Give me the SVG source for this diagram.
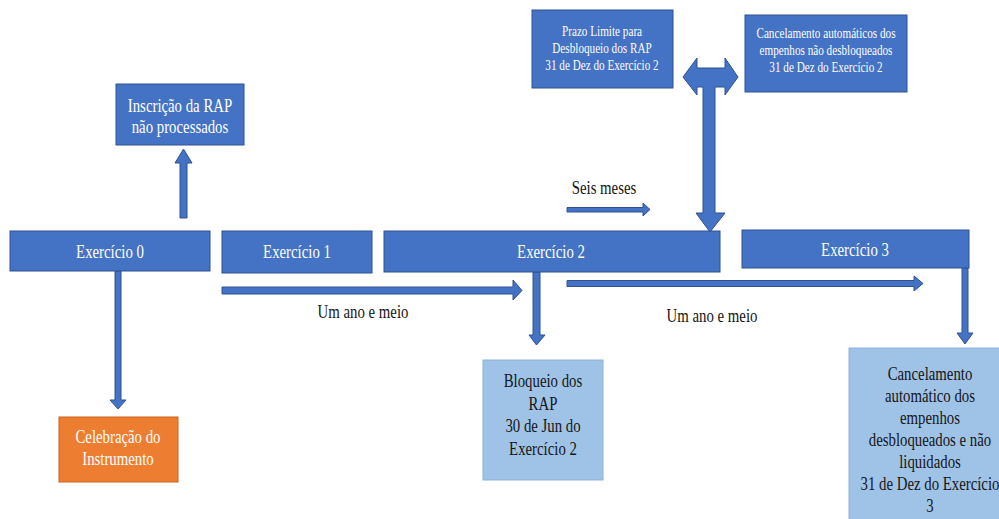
<svg xmlns="http://www.w3.org/2000/svg" width="999" height="519" viewBox="0 0 999 519">
<style>
.box{fill:#4472C4;stroke:#2F528F;stroke-width:1}
.lbox{fill:#9FC3E7;stroke:#8DB3DA;stroke-width:1}
.obox{fill:#ED7D31;stroke:#C8651F;stroke-width:1}
.arr{fill:#4472C4;stroke:#2F528F;stroke-width:1;stroke-linejoin:miter}
.t{font-family:'Liberation Serif','Times New Roman',serif;text-anchor:middle;transform-box:fill-box;transform-origin:center;transform:scaleX(0.8)}
.w{fill:#FFFFFF}
.d{fill:#151515}
.s18{font-size:18.5px}
.s14{font-size:14px}
</style>
<rect width="999" height="519" fill="#FFFFFF"/>
<g id="connectors">
<polygon class="arr" points="180,218 180,163 175,163 183.5,149 192,163 187,163 187,218"/>
<polygon class="arr" points="115,271 121,271 121,400 126,400 118,409 110,400 115,400"/>
<polygon class="arr" points="222,287 513,287 513,280 522,290.5 513,300 513,294 222,294"/>
<polygon class="arr" points="533,272 540,272 540,335 545,335 536.5,345 529,335 533,335"/>
<polygon class="arr" points="567,280.5 914,280.5 914,276 923,283.5 914,291 914,286.5 567,286.5"/>
<polygon class="arr" points="962,268 968,268 968,333 973,333 965,344 957,333 962,333"/>
<polygon class="arr" points="567,207.5 643,207.5 643,203 650,209.5 643,216 643,212 567,212"/>
<polygon class="arr" points="683,77 697,58 697,68 725,68 725,58 738,77 725,95 725,87 715,87 715,213 725,213 710,232 696,213 703,213 703,87 697,87 697,95"/>
</g>
<g id="inscricao" font-family="Liberation Serif, serif">
<rect class="box" x="116" y="84" width="128" height="61"/>
<text class="t w s18" x="180" y="112">Inscrição da RAP</text>
<text class="t w s18" x="180" y="133">não processados</text>
</g>
<g id="exercicio0" font-family="Liberation Serif, serif">
<rect class="box" x="10" y="231" width="200" height="40"/>
<text class="t w s18" x="110" y="258">Exercício 0</text>
</g>
<g id="exercicio1" font-family="Liberation Serif, serif">
<rect class="box" x="222" y="231" width="150" height="42"/>
<text class="t w s18" x="297" y="258">Exercício 1</text>
</g>
<g id="exercicio2" font-family="Liberation Serif, serif">
<rect class="box" x="384" y="231" width="336" height="41"/>
<text class="t w s18" x="551" y="258">Exercício 2</text>
</g>
<g id="exercicio3" font-family="Liberation Serif, serif">
<rect class="box" x="742" y="230" width="227" height="38"/>
<text class="t w s18" x="855" y="256">Exercício 3</text>
</g>
<g id="celebracao" font-family="Liberation Serif, serif">
<rect class="obox" x="59" y="417" width="119" height="65"/>
<text class="t w s18" x="118" y="443">Celebração do</text>
<text class="t w s18" x="118" y="465">Instrumento</text>
</g>
<g id="bloqueio" font-family="Liberation Serif, serif">
<rect class="lbox" x="483" y="360" width="120" height="120"/>
<text class="t d s18" x="543" y="387">Bloqueio dos</text>
<text class="t d s18" x="543" y="409.7">RAP</text>
<text class="t d s18" x="543" y="432.3">30 de Jun do</text>
<text class="t d s18" x="543" y="455">Exercício 2</text>
</g>
<g id="cancelamento-final" font-family="Liberation Serif, serif">
<rect class="lbox" x="849" y="348" width="160" height="180"/>
<text class="t d s18" x="930" y="380">Cancelamento</text>
<text class="t d s18" x="930" y="402">automático dos</text>
<text class="t d s18" x="930" y="424">empenhos</text>
<text class="t d s18" x="930" y="446">desbloqueados e não</text>
<text class="t d s18" x="930" y="468">liquidados</text>
<text class="t d s18" x="930" y="490">31 de Dez do Exercício</text>
<text class="t d s18" x="930" y="512">3</text>
</g>
<g id="prazo" font-family="Liberation Serif, serif">
<rect class="box" x="532" y="10" width="141" height="78"/>
<text class="t w s14" x="602" y="36">Prazo Limite para</text>
<text class="t w s14" x="602" y="53">Desbloqueio dos RAP</text>
<text class="t w s14" x="602" y="70">31 de Dez do Exercício 2</text>
</g>
<g id="cancelamento-automatico" font-family="Liberation Serif, serif">
<rect class="box" x="745" y="15" width="162" height="77"/>
<text class="t w s14" x="826" y="38">Cancelamento automáticos dos</text>
<text class="t w s14" x="826" y="55">empenhos não desbloqueados</text>
<text class="t w s14" x="826" y="72">31 de Dez do Exercício 2</text>
</g>
<g id="labels" font-family="Liberation Serif, serif">
<text class="t d s18" x="604" y="194">Seis meses</text>
<text class="t d s18" x="363" y="318">Um ano e meio</text>
<text class="t d s18" x="712" y="322">Um ano e meio</text>
</g>
</svg>
